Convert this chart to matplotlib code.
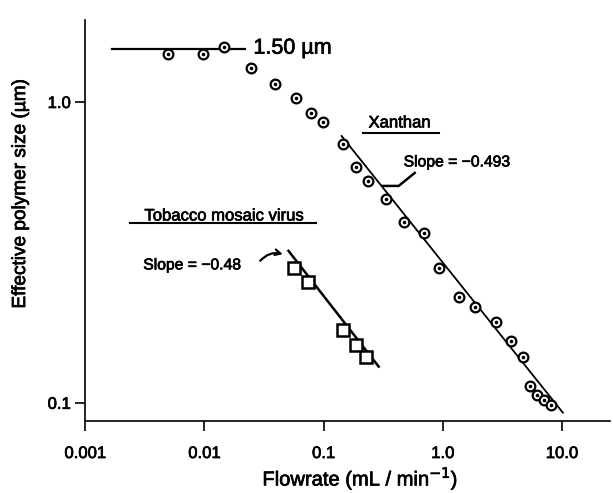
import numpy as np
import matplotlib.pyplot as plt
import matplotlib.patheffects as pe

plt.rcParams['font.family'] = ['Liberation Sans', 'DejaVu Sans']

# Xanthan data (flowrate mL/min, effective size um)
xan_flow = [0.00497, 0.0098, 0.0147, 0.0248, 0.0395, 0.0582, 0.0778, 0.0982,
            0.1445, 0.189, 0.234, 0.332, 0.47, 0.692, 0.925, 1.36, 1.86,
            2.79, 3.73, 4.70, 5.38, 6.17, 7.06, 8.09]
xan_size = [1.443, 1.443, 1.52, 1.30, 1.148, 1.03, 0.92, 0.858,
            0.725, 0.608, 0.547, 0.476, 0.399, 0.367, 0.281, 0.225, 0.208,
            0.186, 0.161, 0.142, 0.114, 0.106, 0.102, 0.098]

# Tobacco mosaic virus data
tmv_flow = [0.0560, 0.0734, 0.147, 0.186, 0.225]
tmv_size = [0.281, 0.252, 0.175, 0.156, 0.142]

# fitted lines (end points)
xan_fit_x = [0.1416, 10.2]
xan_fit_y = [0.771, 0.0927]
tmv_fit_x = [0.0508, 0.29]
tmv_fit_y = [0.32, 0.132]
plateau_x = [0.00169, 0.0221]
plateau_y = [1.50, 1.50]

x_ticks = [0.001, 0.01, 0.1, 1.0, 10.0]
x_labels = ['0.001', '0.01', '0.1', '1.0', '10.0']
y_ticks = [0.1, 1.0]
y_labels = ['0.1', '1.0']

heavy = [pe.withStroke(linewidth=0.5, foreground='k')]

fig = plt.figure(figsize=(6.13, 4.93), dpi=100)
ax = fig.add_axes([0.139, 0.146, 0.856, 0.813])

ax.plot(plateau_x, plateau_y, color='k', lw=1.6)
ax.plot(xan_fit_x, xan_fit_y, color='k', lw=1.3)
ax.plot(tmv_fit_x, tmv_fit_y, color='k', lw=1.8)

ax.plot(xan_flow, xan_size, ls='none', marker='o', ms=7, mfc='white',
        mec='k', mew=1.6)
ax.plot(xan_flow, xan_size, ls='none', marker='o', ms=1.6, color='k')
ax.plot(tmv_flow, tmv_size, ls='none', marker='s', ms=8, mfc='white',
        mec='k', mew=1.8)

ax.set_xscale('log')
ax.set_yscale('log')
ax.set_xlim(0.001, 25.3)
ax.set_ylim(0.087, 1.87)
ax.set_xticks(x_ticks)
ax.set_xticklabels(x_labels)
ax.set_yticks(y_ticks)
ax.set_yticklabels(y_labels)
ax.minorticks_off()
ax.tick_params(labelsize=12, length=7, width=1.2)
ax.tick_params(axis='x', pad=11)
for lab in ax.get_xticklabels() + ax.get_yticklabels():
    lab.set_path_effects(heavy)
for s in ['top', 'right']:
    ax.spines[s].set_visible(False)
for s in ['left', 'bottom']:
    ax.spines[s].set_linewidth(1.2)

ax.set_xlabel('Flowrate (mL / min$^{-1}$)', fontsize=14.5,
              path_effects=heavy)
ax.xaxis.set_label_coords(0.524, -0.112)
ax.set_ylabel('Effective polymer size (µm)', fontsize=13.7,
              path_effects=heavy)
ax.yaxis.set_label_coords(-0.107, 0.565)

ax.text(0.0258, 1.51, '1.50 µm', fontsize=15.5, va='center', ha='left',
        path_effects=heavy)

ax.text(0.435, 0.852, 'Xanthan', fontsize=12, ha='center', va='center',
        path_effects=heavy)
ax.plot([0.213, 0.925], [0.789, 0.789], color='k', lw=1.5)
ax.text(0.47, 0.632, 'Slope = \u22120.493', fontsize=11.3, ha='left',
        va='center', path_effects=heavy)
ax.plot([0.313, 0.427, 0.582], [0.526, 0.526, 0.581], color='k', lw=1.8)

ax.text(0.01473, 0.418, 'Tobacco mosaic virus', fontsize=12, ha='center',
        va='center', path_effects=heavy)
ax.plot([0.00239, 0.0857], [0.396, 0.396], color='k', lw=1.5)
ax.text(0.00307, 0.2873, 'Slope = \u22120.48', fontsize=11.3, ha='left',
        va='center', path_effects=heavy)
ax.annotate('', xy=(0.048, 0.31), xytext=(0.0284, 0.292),
            arrowprops=dict(arrowstyle='->', lw=1.6, color='k',
                            connectionstyle='arc3,rad=-0.35'))

fig.savefig('out.png', dpi=100)
